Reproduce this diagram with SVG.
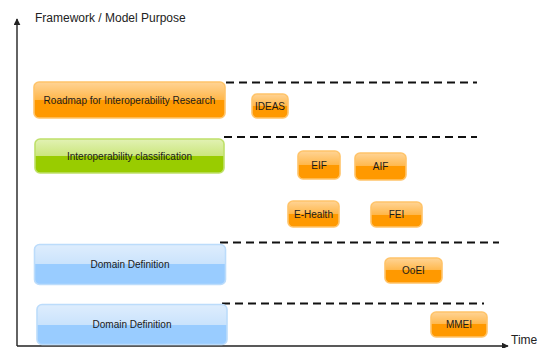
<svg xmlns="http://www.w3.org/2000/svg" width="540" height="348" viewBox="0 0 540 348">
  <style>
    text { font-family: "Liberation Sans", Arial, sans-serif; fill: #1a1a1a; }
    .lbl { font-size: 10px; text-anchor: middle; }
    .axis-lbl { font-size: 12px; fill: #222; }
    .orange { fill: url(#gOrange); stroke: #ffc46a; stroke-width: 1.6; }
    .green { fill: url(#gGreen); stroke: #bfe06a; stroke-width: 1.6; }
    .blue { fill: url(#gBlue); stroke: #bcdcfb; stroke-width: 1.6; }
    .sep { stroke: #111; stroke-width: 2; stroke-dasharray: 8 5; fill: none; }
    .axis { stroke: #222; stroke-width: 1.4; fill: none; }
  </style>
  <defs>
    <linearGradient id="gOrange" x1="0" y1="0" x2="0" y2="1">
      <stop offset="0" stop-color="#ffd496"/>
      <stop offset="0.5" stop-color="#ffb74a"/>
      <stop offset="0.5" stop-color="#ff9900"/>
      <stop offset="1" stop-color="#ff9900"/>
    </linearGradient>
    <linearGradient id="gGreen" x1="0" y1="0" x2="0" y2="1">
      <stop offset="0" stop-color="#e2f2b4"/>
      <stop offset="0.5" stop-color="#cbe67c"/>
      <stop offset="0.5" stop-color="#99cc00"/>
      <stop offset="1" stop-color="#99cc00"/>
    </linearGradient>
    <linearGradient id="gBlue" x1="0" y1="0" x2="0" y2="1">
      <stop offset="0" stop-color="#deedfd"/>
      <stop offset="0.5" stop-color="#cae3fc"/>
      <stop offset="0.5" stop-color="#99ccff"/>
      <stop offset="1" stop-color="#99ccff"/>
    </linearGradient>
    <marker id="arrow" viewBox="0 0 10 10" refX="9" refY="5" markerWidth="7" markerHeight="7" markerUnits="userSpaceOnUse" orient="auto">
      <path d="M0,0 L10,5 L0,10 z" fill="#222"/>
    </marker>
  </defs>

  <rect width="540" height="348" fill="#ffffff"/>

  <!-- axes -->
  <g id="axes">
    <line class="axis" x1="17" y1="346" x2="17" y2="19" marker-end="url(#arrow)"/>
    <line class="axis" x1="17" y1="346" x2="508" y2="346" marker-end="url(#arrow)"/>
    <text class="axis-lbl" x="35" y="22">Framework / Model Purpose</text>
    <text class="axis-lbl" x="511" y="344" font-size="11.5">Time</text>
  </g>

  <!-- dashed separators between purpose bands -->
  <g id="connectors">
    <line class="sep" x1="226" y1="82.5" x2="477" y2="82.5"/>
    <line class="sep" x1="224" y1="137" x2="477" y2="137"/>
    <line class="sep" x1="220" y1="242.5" x2="499" y2="242.5"/>
    <line class="sep" x1="222" y1="303.5" x2="484" y2="303.5"/>
  </g>

  <!-- purpose bands -->
  <g id="roadmap">
    <rect class="orange" x="34" y="82" width="191" height="36" rx="5"/>
    <text class="lbl" x="129.5" y="103.5">Roadmap for Interoperability Research</text>
  </g>
  <g id="classification">
    <rect class="green" x="35" y="139" width="189" height="34" rx="5"/>
    <text class="lbl" x="129.5" y="159.5">Interoperability classification</text>
  </g>
  <g id="domain1">
    <rect class="blue" x="34.5" y="244.5" width="191" height="40" rx="5"/>
    <text class="lbl" x="130" y="268">Domain Definition</text>
  </g>
  <g id="domain2">
    <rect class="blue" x="37" y="304.5" width="190" height="40" rx="5"/>
    <text class="lbl" x="132" y="328">Domain Definition</text>
  </g>

  <!-- frameworks and models -->
  <g id="ideas">
    <rect class="orange" x="252" y="94" width="36" height="24" rx="5"/>
    <text class="lbl" x="270" y="109.5">IDEAS</text>
  </g>
  <g id="eif">
    <rect class="orange" x="298" y="151" width="42" height="28" rx="5"/>
    <text class="lbl" x="319" y="168.5">EIF</text>
  </g>
  <g id="aif">
    <rect class="orange" x="355" y="153" width="51" height="27" rx="5"/>
    <text class="lbl" x="380.5" y="170">AIF</text>
  </g>
  <g id="ehealth">
    <rect class="orange" x="288" y="201" width="51" height="26" rx="5"/>
    <text class="lbl" x="313.5" y="217.5">E-Health</text>
  </g>
  <g id="fei">
    <rect class="orange" x="371" y="202" width="51" height="25" rx="5"/>
    <text class="lbl" x="396.5" y="218">FEI</text>
  </g>
  <g id="ooei">
    <rect class="orange" x="385" y="258" width="57" height="25" rx="5"/>
    <text class="lbl" x="413.5" y="274">OoEI</text>
  </g>
  <g id="mmei">
    <rect class="orange" x="431" y="312" width="56" height="25" rx="5"/>
    <text class="lbl" x="459" y="328">MMEI</text>
  </g>
</svg>
